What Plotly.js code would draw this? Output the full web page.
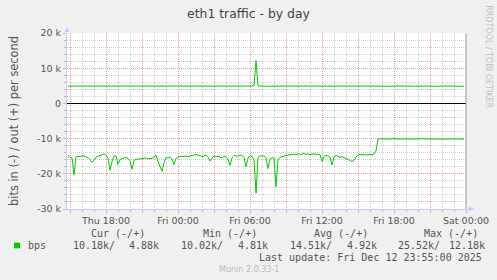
<!DOCTYPE html>
<html>
<head>
<meta charset="utf-8">
<script src="https://cdn.plot.ly/plotly-3.0.1.min.js"></script>
<style>
  html, body { margin: 0; padding: 0; background: #f0f0f0; }
  #chart { width: 497px; height: 280px; }
</style>
</head>
<body>
<div id="chart"></div>
<script>
// ---- data (values in k bits per second) ----
const seriesName = "bps";
const startTime = "2025-12-11 14:50";
const stepMs = 600000; // 10 minute samples

const inK = [
  -14.8,-15.3,-15.5,-20.3,-15.2,-15.0,-15.1,-14.9,-15.0,-15.1,
  -15.4,-16.0,-16.7,-16.2,-15.3,-15.0,-14.9,-14.6,-14.3,-14.8,
  -15.6,-19.0,-16.5,-15.0,-14.9,-17.3,-16.0,-15.6,-15.5,-15.4,
  -15.6,-16.3,-18.7,-16.2,-15.9,-15.8,-15.9,-15.6,-15.7,-15.5,
  -15.8,-15.6,-15.7,-15.2,-14.7,-16.5,-18.2,-19.3,-16.8,-15.3,
  -15.5,-15.2,-15.8,-17.4,-15.6,-15.2,-15.1,-15.0,-15.2,-14.9,
  -15.1,-15.0,-14.8,-14.6,-14.5,-14.8,-14.7,-15.2,-14.9,-14.6,
  -15.3,-16.4,-15.5,-14.9,-15.2,-15.0,-15.3,-15.5,-15.0,-15.2,
  -15.8,-17.6,-15.5,-14.8,-14.9,-15.0,-14.7,-14.8,-15.3,-18.0,
  -15.6,-14.8,-15.0,-16.0,-25.52,-15.3,-14.9,-15.0,-14.8,-15.6,
  -18.5,-15.8,-15.4,-15.5,-23.7,-16.0,-15.3,-15.2,-15.0,-14.7,
  -14.8,-14.5,-14.6,-14.4,-14.6,-14.3,-14.5,-14.4,-14.2,-14.5,
  -14.3,-14.6,-14.4,-14.3,-14.5,-14.4,-14.6,-16.5,-15.0,-14.8,
  -14.9,-15.3,-17.5,-15.2,-14.8,-15.0,-15.3,-15.1,-15.4,-15.5,
  -15.8,-16.1,-16.5,-16.2,-15.2,-14.7,-14.5,-14.6,-14.5,-14.6,
  -14.7,-14.5,-14.6,-14.4,-13.5,-10.1,-10.05,-10.1,-10.15,-10.1,
  -10.1,-10.12,-10.05,-10.1,-10.15,-10.1,-10.08,-10.12,-10.1,-10.05,
  -10.1,-10.15,-10.1,-10.12,-10.08,-10.1,-10.15,-10.1,-10.02,-10.1,
  -10.12,-10.1,-10.08,-10.15,-10.1,-10.12,-10.05,-10.1,-10.1,-10.15,
  -10.1,-10.08,-10.12,-10.1,-10.05,-10.1,-10.15,-10.1,-10.18
];

const outK = [
  4.90,4.92,4.88,4.95,4.91,4.89,4.93,4.90,4.92,4.88,
  4.91,4.94,4.90,4.89,4.92,4.95,4.90,4.88,4.93,4.91,
  4.90,4.92,4.89,4.94,4.91,4.90,4.88,4.92,4.95,4.90,
  4.93,4.91,4.89,4.90,4.92,4.94,4.90,4.88,4.91,4.93,
  4.92,4.90,4.89,4.95,4.91,4.90,4.92,4.88,4.94,4.90,
  4.91,4.93,4.90,4.89,4.92,4.90,4.95,4.91,4.88,4.92,
  4.90,4.94,4.91,4.89,4.93,4.90,4.92,4.88,4.91,4.95,
  4.90,4.92,4.89,4.91,4.94,4.90,4.88,4.92,4.93,4.90,
  4.91,4.89,4.92,4.95,4.90,4.81,4.92,4.91,4.89,4.90,
  4.93,4.90,4.92,4.95,12.18,4.96,4.90,4.88,4.92,4.91,
  4.90,4.93,4.89,4.92,4.94,4.90,4.91,4.88,4.92,4.95,
  4.90,4.91,4.93,4.89,4.92,4.90,4.94,4.91,4.88,4.92,
  4.90,4.95,4.91,4.89,4.92,4.90,4.93,4.88,4.91,4.94,
  4.90,4.92,4.89,4.91,4.95,4.90,4.92,4.88,4.93,4.91,
  4.90,4.92,4.94,4.89,4.91,4.90,4.93,4.92,4.88,4.90,
  4.91,4.95,4.90,4.92,4.89,4.91,4.93,4.90,4.88,4.92,
  4.94,4.90,4.91,4.89,4.92,4.95,4.90,4.91,4.88,4.93,
  4.90,4.92,4.89,4.91,4.94,4.90,4.92,4.88,4.91,4.93,
  4.90,4.95,4.91,4.89,4.92,4.90,4.93,4.91,4.88,4.90,
  4.92,4.91,4.89,4.94,4.90,4.92,4.91,4.90,4.88
];

const xTickVals = [
  "2025-12-11 15:00","2025-12-11 18:00","2025-12-11 21:00",
  "2025-12-12 00:00","2025-12-12 03:00","2025-12-12 06:00",
  "2025-12-12 09:00","2025-12-12 12:00","2025-12-12 15:00",
  "2025-12-12 18:00","2025-12-12 21:00","2025-12-13 00:00"
];
const xTickText = [
  "","Thu 18:00","","Fri 00:00","","Fri 06:00",
  "","Fri 12:00","","Fri 18:00","","Sat 00:00"
];
const yTickVals = [-30,-20,-10,0,10,20];
const yTickText = ["-30 k","-20 k","-10 k","0","10 k","20 k"];

const statHeaders = ["Cur (-/+)","Min (-/+)","Avg (-/+)","Max (-/+)"];
const statIn  = ["10.18k/","10.02k/","14.51k/","25.52k/"];
const statOut = ["4.88k","4.81k","4.92k","12.18k"];
const lastUpdate = "Last update: Fri Dec 12 23:55:00 2025";
const footer = "Munin 2.0.33-1";
const sideText = "RRDTOOL / TOBI OETIKER";

// ---- layout geometry (pixels) ----
const L = 67, R = 466, T = 33, B = 209;
const W = R - L, H = B - T;
const px = x => (x - L) / W;
const py = y => (B - y) / H;

const green = "#00cc00";
const textGray = "#555555";
const mono = "DejaVu Sans Mono, monospace";

const traces = [
  { x0: startTime, dx: stepMs, y: inK, type: "scatter", mode: "lines",
    line: { color: green, width: 1 }, name: seriesName + " in", hoverinfo: "skip" },
  { x0: startTime, dx: stepMs, y: outK, type: "scatter", mode: "lines",
    line: { color: green, width: 1 }, name: seriesName + " out", hoverinfo: "skip" }
];

const annotations = [];
const hdrX = [90, 201.7, 313, 423];
const inX = [72, 180, 289, 397];
const outX = [128, 237, 345.7, 447.7];
statHeaders.forEach((h, i) => {
  annotations.push({ text: h, xref: "paper", yref: "paper", x: px(hdrX[i]), y: py(233.3),
    xanchor: "left", yanchor: "middle", showarrow: false, borderpad: 0,
    font: { family: mono, size: 10, color: textGray } });
  annotations.push({ text: statIn[i], xref: "paper", yref: "paper", x: px(inX[i]), y: py(245.5),
    xanchor: "left", yanchor: "middle", showarrow: false, borderpad: 0,
    font: { family: mono, size: 10, color: textGray } });
  annotations.push({ text: statOut[i], xref: "paper", yref: "paper", x: px(outX[i]), y: py(245.5),
    xanchor: "left", yanchor: "middle", showarrow: false, borderpad: 0,
    font: { family: mono, size: 10, color: textGray } });
});
annotations.push({ text: seriesName, xref: "paper", yref: "paper", x: px(26.7), y: py(245.5),
  xanchor: "left", yanchor: "middle", showarrow: false, borderpad: 0,
  font: { family: mono, size: 10, color: textGray } });
annotations.push({ text: lastUpdate, xref: "paper", yref: "paper", x: px(483.3), y: py(257.3),
  xanchor: "right", yanchor: "middle", showarrow: false, borderpad: 0,
  font: { family: mono, size: 10, color: textGray } });
annotations.push({ text: footer, xref: "paper", yref: "paper", x: px(248.5), y: py(269),
  xanchor: "center", yanchor: "middle", showarrow: false, borderpad: 0,
  font: { family: "DejaVu Sans", size: 8, color: "#bbbbbb" } });
annotations.push({ text: sideText, xref: "paper", yref: "paper", x: px(488.3), y: py(56.5),
  xanchor: "center", yanchor: "middle", showarrow: false, borderpad: 0, textangle: 90,
  font: { family: "DejaVu Sans", size: 8, color: "#c0c0c0" } });

const axisBlue = "#c8c8f8";
const shapes = [
  { type: "rect", xref: "paper", yref: "paper", x0: px(14), x1: px(20), y0: py(248.3), y1: py(242.7),
    fillcolor: green, line: { width: 0 } },
  { type: "line", xref: "paper", yref: "paper", x0: 1, x1: 1, y0: 0, y1: 1,
    line: { color: "#999999", width: 1 } },
  { type: "path", xref: "paper", yref: "paper",
    path: `M ${px(64.5)} ${py(32)} L ${px(69.5)} ${py(32)} L ${px(67)} ${py(27)} Z`,
    fillcolor: axisBlue, line: { width: 0 } },
  { type: "line", xref: "paper", yref: "paper", x0: 1, x1: px(470), y0: 0, y1: 0,
    line: { color: axisBlue, width: 1 } },
  { type: "path", xref: "paper", yref: "paper",
    path: `M ${px(469)} ${py(206.5)} L ${px(469)} ${py(211.5)} L ${px(474)} ${py(209)} Z`,
    fillcolor: axisBlue, line: { width: 0 } }
];

const layout = {
  width: 497, height: 280,
  margin: { l: L, r: 497 - R, t: T, b: 280 - B, pad: 0 },
  paper_bgcolor: "#f0f0f0",
  plot_bgcolor: "#ffffff",
  font: { family: "DejaVu Sans", color: textGray },
  showlegend: false,
  title: { text: "eth1 traffic - by day", font: { family: "DejaVu Sans", size: 12.4, color: "#444444" },
    x: 0.5, xanchor: "center", xref: "container", y: 1 - 14 / 280, yanchor: "middle", yref: "container" },
  xaxis: {
    type: "date",
    range: ["2025-12-11 14:45", "2025-12-13 00:00"],
    tickmode: "array", tickvals: xTickVals, ticktext: xTickText,
    showgrid: true, gridcolor: "#e89a9a", griddash: "1px,1px", gridwidth: 1,
    ticks: "outside", ticklen: 3, tickcolor: "#bbbbbb",
    showline: true, linecolor: axisBlue, linewidth: 1,
    zeroline: false,
    tickfont: { family: "DejaVu Sans", size: 9.5, color: textGray },
    minor: { tickmode: "linear", tick0: "2025-12-11 00:00", dtick: 3600000,
      showgrid: true, gridcolor: "#cfcfcf", griddash: "1px,1px", gridwidth: 1,
      ticks: "outside", ticklen: 2, tickcolor: "#bbbbbb" },
    fixedrange: true
  },
  yaxis: {
    range: [-30, 20],
    tickmode: "array", tickvals: yTickVals, ticktext: yTickText,
    showgrid: true, gridcolor: "#e89a9a", griddash: "1px,1px", gridwidth: 1,
    zeroline: true, zerolinecolor: "#000000", zerolinewidth: 1,
    ticks: "outside", ticklen: 3, tickcolor: "#bbbbbb",
    showline: true, linecolor: axisBlue, linewidth: 1,
    tickfont: { family: "DejaVu Sans", size: 9.5, color: textGray },
    title: { text: "bits in (-) / out (+) per second", standoff: 16,
      font: { family: "DejaVu Sans", size: 11.4, color: textGray } },
    minor: { tickmode: "linear", tick0: 0, dtick: 2,
      showgrid: true, gridcolor: "#cfcfcf", griddash: "1px,1px", gridwidth: 1,
      ticks: "outside", ticklen: 2, tickcolor: "#bbbbbb" },
    fixedrange: true
  },
  annotations: annotations,
  shapes: shapes
};

Plotly.newPlot("chart", traces, layout, { displayModeBar: false, staticPlot: true });
</script>
</body>
</html>
